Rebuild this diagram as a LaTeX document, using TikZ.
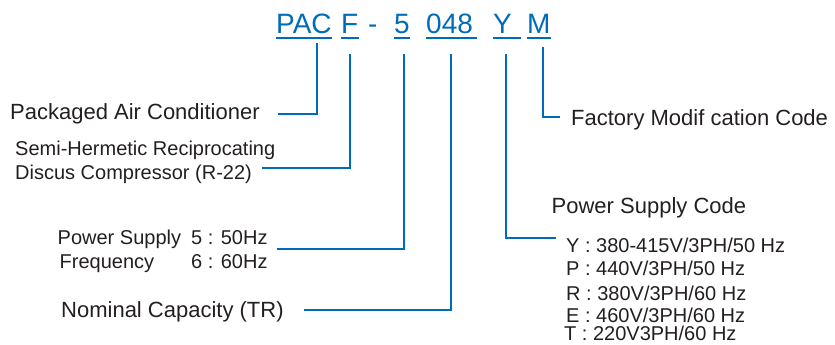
\documentclass[tikz,border=0pt]{standalone}
\usepackage{fontspec}
\setmainfont{Liberation Sans}
\usepackage{xcolor}
\usepackage{tikz}
\usetikzlibrary{positioning}
\definecolor{codeblue}{RGB}{0,108,183}
\definecolor{inkgrey}{RGB}{35,31,32}
\tikzset{
  codetxt/.style={anchor=base west,inner sep=0pt,text=codeblue,
    font=\fontsize{28}{30}\selectfont},
  lbl/.style={anchor=base west,inner sep=0pt,text=inkgrey,
    font=\fontsize{20}{24}\selectfont},
  biglbl/.style={lbl,font=\fontsize{22}{26}\selectfont},
  lead/.style={draw=codeblue,line width=1.8pt},
  uline/.style={draw=codeblue,line width=1.6pt}
}

\begin{document}
\begin{tikzpicture}[x=1pt,y=-1pt]
  \useasboundingbox (0,0) rectangle (835,345);
  % model code
  \node[codetxt] (pac) at (276,34) {PAC};
  \node[codetxt] (fam) at (341,34) {F};
  \node[codetxt] (dash) at (368,34) {-};
  \node[codetxt] (freq) at (394,34) {5};
  \node[codetxt] (cap) at (426,34) {\makebox[51pt][l]{048}};
  \node[codetxt] (volt) at (493,34) {\makebox[28pt][l]{Y}};
  \node[codetxt] (mod) at (527,34) {M};
  \foreach \n in {pac,fam,freq,cap,volt,mod}
    \draw[uline] ([yshift=-4pt]\n.base west) -- ([yshift=-4pt]\n.base east);
  % left labels
  \node[biglbl] (pacl) at (10,119) {Packaged Air Conditioner};
  \node[lbl] (faml) at (15,155) {Semi-Hermetic Reciprocating};
  \node[lbl] (faml2) at (15,179) {Discus Compressor (R-22)};
  \node[lbl] (pwr) at (57.5,244) {Power Supply};
  \node[lbl] (frq) at (59.5,268) {Frequency};
  \node[lbl] (opt5) at (191,244) {5 : 50Hz};
  \node[lbl] (opt6) at (191,268) {6 : 60Hz};
  \node[biglbl] (capl) at (61,317) {Nominal Capacity (TR)};
  % right labels
  \node[biglbl] (modl) at (571,125) {Factory Modif cation Code};
  \node[biglbl] (voltl) at (551.5,213) {Power Supply Code};
  \node[lbl] (vy) at (566,252) {Y : 380-415V/3PH/50 Hz};
  \node[lbl] (vp) at (566,275) {P : 440V/3PH/50 Hz};
  \node[lbl] (vr) at (566,300) {R : 380V/3PH/60 Hz};
  \node[lbl] (ve) at (566,322) {E : 460V/3PH/60 Hz};
  \node[lbl] (vt) at (564,340) {T : 220V3PH/60 Hz};
  % leaders
  \draw[lead] ([xshift=13pt,yshift=-9pt]pac.south) |- ([xshift=18pt,yshift=5pt]pacl.base east);
  \draw[lead] ([yshift=-20pt]fam.south) |- ([xshift=10pt,yshift=11pt]faml2.base east);
  \draw[lead] ([xshift=2pt,yshift=-20pt]freq.south) |- ([xshift=9pt,yshift=-5pt]opt5.base east);
  \draw[lead] ([xshift=-0.5pt,yshift=-20pt]cap.south) |- ([xshift=20pt,yshift=7pt]capl.base east);
  \draw[lead] ([xshift=-1.5pt,yshift=-20pt]volt.south) |- ([xshift=-10pt,yshift=14pt]vy.base west);
  \draw[lead] ([xshift=4pt,yshift=-13pt]mod.south) |- ([xshift=-11pt,yshift=8pt]modl.base west);
\end{tikzpicture}
\end{document}
